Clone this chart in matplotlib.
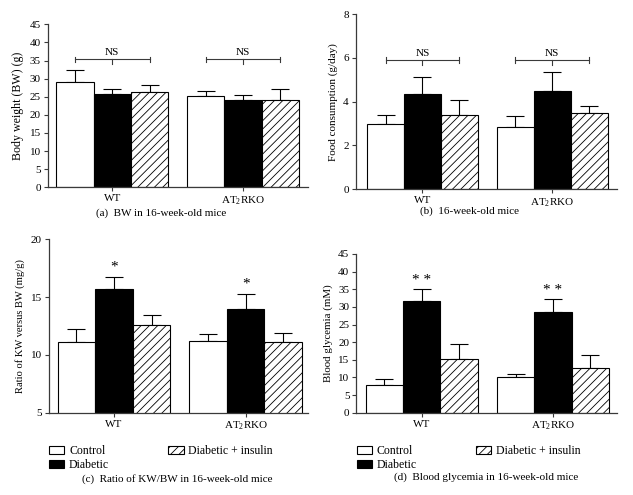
import matplotlib
matplotlib.use("Agg")
import matplotlib.pyplot as plt
from matplotlib.patches import Patch
import numpy as np

plt.rcParams['font.family'] = ['Liberation Serif', 'DejaVu Serif']
plt.rcParams['mathtext.fontset'] = 'custom'
plt.rcParams['mathtext.rm'] = 'Liberation Serif'
plt.rcParams['hatch.linewidth'] = 0.6

groups = ['WT', 'AT$_2$RKO']
series = ['Control', 'Diabetic', 'Diabetic + insulin']

# (a) Body weight (g)
bw_mean = {'WT': [29.0, 25.7, 26.2], 'AT2RKO': [25.2, 24.2, 24.2]}
bw_err = {'WT': [3.4, 1.35, 2.0], 'AT2RKO': [1.5, 1.2, 2.85]}
# (b) Food consumption (g/day)
fc_mean = {'WT': [2.97, 4.37, 3.38], 'AT2RKO': [2.83, 4.49, 3.47]}
fc_err = {'WT': [0.41, 0.76, 0.70], 'AT2RKO': [0.50, 0.86, 0.33]}
# (c) KW/BW ratio (mg/g)
kw_mean = {'WT': [11.14, 15.73, 12.56], 'AT2RKO': [11.23, 14.0, 11.14]}
kw_err = {'WT': [1.13, 1.04, 0.89], 'AT2RKO': [0.61, 1.3, 0.78]}
# (d) Blood glycemia (mM)
bg_mean = {'WT': [7.85, 31.57, 15.1], 'AT2RKO': [10.2, 28.5, 12.66]}
bg_err = {'WT': [1.6, 3.59, 4.3], 'AT2RKO': [0.86, 3.6, 3.6]}

W = 0.285
faces = ['white', 'black', 'white']
hatches = [None, None, '////']
SPINE = '#3a3a3a'
FS = 8.0

fig = plt.figure(figsize=(6.33, 4.95), dpi=100)


def panel(rect, means, errs, ylim, yticks, ylabel, xlim, ylfs):
    ax = fig.add_axes(rect)
    keys = ['WT', 'AT2RKO']
    for gi, k in enumerate(keys):
        for si in range(3):
            x = gi + (si - 1) * W
            ax.bar(x, means[k][si], width=W, color=faces[si], edgecolor='black',
                   linewidth=0.8, hatch=hatches[si], zorder=2)
            ax.errorbar(x, means[k][si], yerr=[[0], [errs[k][si]]], fmt='none',
                        ecolor='black', elinewidth=0.8, capsize=6.8, capthick=0.8, zorder=1)
    ax.set_xlim(*xlim)
    ax.set_ylim(*ylim)
    ax.set_yticks(yticks)
    ax.set_xticks([0, 1])
    ax.set_xticklabels(groups, fontsize=FS)
    for s in ['top', 'right']:
        ax.spines[s].set_visible(False)
    for s in ['left', 'bottom']:
        ax.spines[s].set_color(SPINE)
        ax.spines[s].set_linewidth(0.9)
    ax.tick_params(axis='both', direction='out', length=3, width=0.8, color=SPINE,
                   labelsize=FS, pad=2)
    ax.set_ylabel(ylabel, fontsize=ylfs, labelpad=4)
    return ax


def ns_bracket(ax, y, tick, down, text_dy):
    for gi in range(2):
        x0, x1 = gi - W, gi + W
        ax.plot([x0, x1], [y, y], color=SPINE, lw=0.8)
        ax.plot([x0, x0], [y - tick, y + tick], color=SPINE, lw=0.8)
        ax.plot([x1, x1], [y - tick, y + tick], color=SPINE, lw=0.8)
        ax.plot([gi, gi], [y, y - down], color=SPINE, lw=0.8)
        ax.text(gi, y + text_dy, 'NS', ha='center', va='center', fontsize=FS)


axa = panel([0.0754, 0.6216, 0.4112, 0.3293], bw_mean, bw_err, (0, 45),
            np.arange(0, 46, 5), 'Body weight (BW) (g)', (-0.494, 1.497), 8.6)
ns_bracket(axa, 35.3, 0.78, 1.29, 1.9)

axb = panel([0.5619, 0.6176, 0.4128, 0.3541], fc_mean, fc_err, (0, 8),
            [0, 2, 4, 6, 8], 'Food consumption (g/day)', (-0.515, 1.5), 8.0)
ns_bracket(axb, 5.89, 0.14, 0.2, 0.33)

axc = panel([0.0769, 0.1663, 0.4096, 0.3503], kw_mean, kw_err, (5, 20),
            [5, 10, 15, 20], 'Ratio of KW versus BW (mg/g)', (-0.496, 1.473), 7.6)
for gi, k in enumerate(['WT', 'AT2RKO']):
    axc.text(gi, kw_mean[k][1] + kw_err[k][1] + 0.25, '*', ha='center', va='bottom', fontsize=11)

axd = panel([0.5629, 0.1663, 0.4119, 0.3206], bg_mean, bg_err, (0, 45),
            np.arange(0, 46, 5), 'Blood glycemia (mM)', (-0.50, 1.49), 7.8)
for gi, k in enumerate(['WT', 'AT2RKO']):
    axd.text(gi, bg_mean[k][1] + bg_err[k][1] + 0.6, '* *', ha='center', va='bottom', fontsize=11)

captions = [(0.254, 0.5703, '(a)  BW in 16-week-old mice'),
            (0.7417, 0.5737, '(b)  16-week-old mice'),
            (0.2804, 0.0329, '(c)  Ratio of KW/BW in 16-week-old mice'),
            (0.7673, 0.0364, '(d)  Blood glycemia in 16-week-old mice')]
for x, y, t in captions:
    fig.text(x, y, t, ha='center', va='center', fontsize=FS)

handles = [Patch(facecolor=faces[i], edgecolor='black', linewidth=0.8, hatch=hatches[i])
           for i in range(3)]
for lx in [0.0774, 0.5635]:
    fig.legend(handles, series, loc='upper left', bbox_to_anchor=(lx, 0.1000),
               ncol=2, frameon=False, fontsize=FS + 0.5, handlelength=1.3,
               handleheight=0.65, handletextpad=0.4, columnspacing=5.0,
               labelspacing=0.12, borderpad=0, borderaxespad=0)

fig.savefig('out.png', dpi=100)
